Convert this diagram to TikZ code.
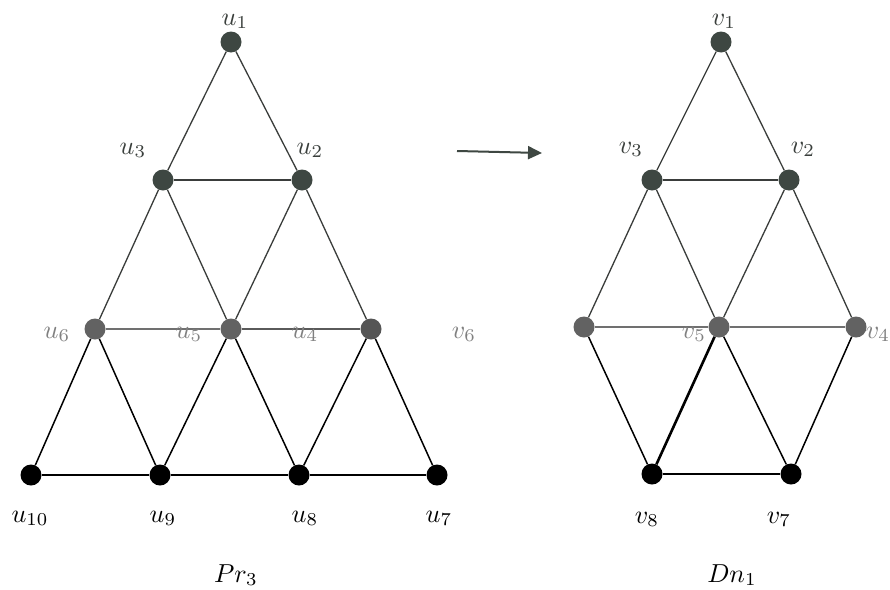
\documentclass[tikz,border=0pt]{standalone}
\usepackage{graphicx}
\usetikzlibrary{arrows.meta}
\definecolor{topc}{HTML}{3E4742}
\definecolor{midc}{HTML}{626262}
\definecolor{midd}{HTML}{555555}
\definecolor{topl}{HTML}{3A3F3C}
\definecolor{midl}{HTML}{808080}
\definecolor{tope}{HTML}{3A3D3B}
\definecolor{mide}{HTML}{707070}
\definecolor{midde}{HTML}{5A5A5A}
\newcommand{\lbl}[1]{\scalebox{2.6}{$#1$}}
\tikzset{
  vx/.style={circle,inner sep=0pt,minimum size=21pt,draw=none},
  topv/.style={vx,fill=topc},
  midv/.style={vx,fill=midc},
  botv/.style={vx,fill=black},
  lab/.style={inner sep=0pt,anchor=base},
  etop/.style={draw=tope,line width=1.3pt},
  emid/.style={draw=mide,line width=1.3pt},
  ebot/.style={draw=black,line width=1.5pt},
  ethick/.style={draw=black,line width=2.6pt},
  arr/.style={draw=topc,line width=2pt,-{Triangle[length=14pt,width=13pt]}}
}
\begin{document}
\begin{tikzpicture}[x=1pt,y=-1pt]
\useasboundingbox (0,0) rectangle (890,589);
\fill[white] (0,0) rectangle (890,589);

% Left graph Pr_3
\node[topv] (u1) at (231,42) {};
\node[topv] (u3) at (163,180) {};
\node[topv] (u2) at (302,180) {};
\node[midv] (u6) at (95,329) {};
\node[midv] (u5) at (231,329) {};
\node[midv,fill=midd] (u4) at (371,329) {};
\node[botv] (u10) at (31,475) {};
\node[botv] (u9) at (160,475) {};
\node[botv] (u8) at (299,475) {};
\node[botv] (u7) at (437,475) {};

\path[etop] (u1) -- (u3);
\path[etop] (u1) -- (u2);
\path[etop] (u3) -- (u2);
\path[etop] (u3) -- (u6);
\path[etop] (u3) -- (u5);
\path[etop] (u2) -- (u5);
\path[etop] (u2) -- (u4);
\path[emid] (u6) -- (u5);
\path[emid,draw=midde,line width=1.6pt] (u5) -- (u4);
\path[ebot] (u6) -- (u10);
\path[ebot] (u6) -- (u9);
\path[ebot] (u5) -- (u9);
\path[ebot] (u5) -- (u8);
\path[ebot] (u4) -- (u8);
\path[ebot] (u4) -- (u7);
\path[ebot] (u10) -- (u9);
\path[ebot] (u9) -- (u8);
\path[ebot] (u8) -- (u7);

\node[lab,text=topl] (lu1) at (235,25) {\lbl{u_1}};
\node[lab,text=topl] (lu3) at (133,154) {\lbl{u_3}};
\node[lab,text=topl] (lu2) at (310,154) {\lbl{u_2}};
\node[lab,text=midl] (lu6) at (57,338) {\lbl{u_6}};
\node[lab,text=midl] (lu5) at (189,338) {\lbl{u_5}};
\node[lab,text=midl] (lu4) at (305,338) {\lbl{u_4}};
\node[lab] (lu10) at (30,522) {\lbl{u_{10}}};
\node[lab] (lu9) at (163,522) {\lbl{u_9}};
\node[lab] (lu8) at (305,522) {\lbl{u_8}};
\node[lab] (lu7) at (439,522) {\lbl{u_7}};
\node[lab] (lpr) at (236,582) {\lbl{Pr_3}};

% Arrow
\coordinate (a1) at (457,151);
\coordinate (a2) at (542,153);
\path[arr] (a1) -- (a2);

% Right graph Dn_1
\node[topv] (v1) at (721,42) {};
\node[topv] (v3) at (652,180) {};
\node[topv] (v2) at (789,180) {};
\node[midv] (v6) at (584,327) {};
\node[midv] (v5) at (719,327) {};
\node[midv] (v4) at (856,327) {};
\node[botv] (v8) at (652,474) {};
\node[botv] (v7) at (791,474) {};

\path[etop] (v1) -- (v3);
\path[etop] (v1) -- (v2);
\path[etop] (v3) -- (v2);
\path[etop] (v3) -- (v6);
\path[etop] (v3) -- (v5);
\path[etop] (v2) -- (v5);
\path[etop] (v2) -- (v4);
\path[emid] (v6) -- (v5);
\path[emid] (v5) -- (v4);
\path[ebot] (v6) -- (v8);
\path[ethick] (v5) -- (v8);
\path[ebot] (v5) -- (v7);
\path[ebot] (v4) -- (v7);
\path[ebot] (v8) -- (v7);

\node[lab,text=midl] (lv6) at (464,338) {\lbl{v_6}};
\node[lab,text=topl] (lv1) at (724,25) {\lbl{v_1}};
\node[lab,text=topl] (lv3) at (631,153) {\lbl{v_3}};
\node[lab,text=topl] (lv2) at (803,153) {\lbl{v_2}};
\node[lab,text=midl] (lv5) at (694,338) {\lbl{v_5}};
\node[lab,text=midl] (lv4) at (878,338) {\lbl{v_4}};
\node[lab] (lv8) at (647,523) {\lbl{v_8}};
\node[lab] (lv7) at (779,523) {\lbl{v_7}};
\node[lab] (ldn) at (732,582) {\lbl{Dn_1}};
\end{tikzpicture}
\end{document}
